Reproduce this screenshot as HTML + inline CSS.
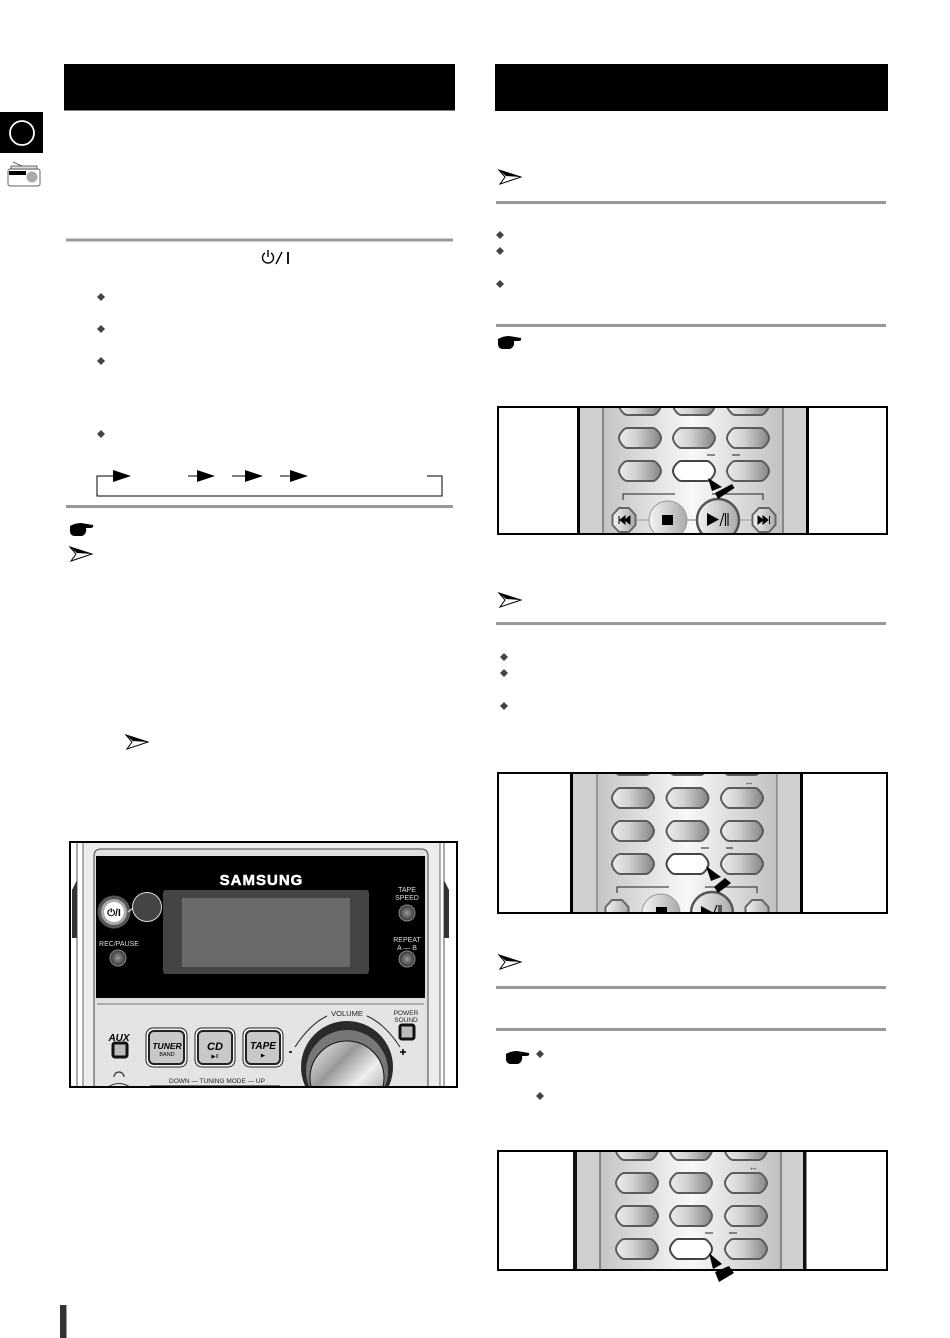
<!DOCTYPE html>
<html><head><meta charset="utf-8"><style>
html,body{margin:0;padding:0;background:#fff}
svg{display:block}
text{font-family:"Liberation Sans",sans-serif}
</style></head><body>
<svg xmlns="http://www.w3.org/2000/svg" width="950" height="1338" viewBox="0 0 950 1338">
<defs>
<linearGradient id="btn" x1="0" x2="1" y1="0" y2="0"><stop offset="0" stop-color="#ececec"/><stop offset=".4" stop-color="#d2d2d2"/><stop offset="1" stop-color="#858585"/></linearGradient>
<linearGradient id="body" x1="0" x2="1" y1="0" y2="0"><stop offset="0" stop-color="#c4c4c4"/><stop offset=".5" stop-color="#f8f8f8"/><stop offset="1" stop-color="#c0c0c0"/></linearGradient>
<linearGradient id="circ" x1="0" x2="1" y1="0" y2="0"><stop offset="0" stop-color="#f4f4f4"/><stop offset="1" stop-color="#aaa"/></linearGradient>
<linearGradient id="knob" x1="0" x2="1" y1="0" y2="1"><stop offset="0" stop-color="#f0f0f0"/><stop offset=".35" stop-color="#999"/><stop offset=".6" stop-color="#eee"/><stop offset="1" stop-color="#888"/></linearGradient>
<radialGradient id="led"><stop offset="0" stop-color="#999"/><stop offset="1" stop-color="#333"/></radialGradient>
<path id="b" d="M-13,-10 H13 C16,-10 21,-4 21,0 C21,4 16,10 13,10 H-13 C-16,10 -21,4 -21,0 C-21,-4 -16,-10 -13,-10 Z" fill="url(#btn)" stroke="#5c5c5c" stroke-width="2"/>
<path id="bw" d="M-13,-10 H13 C16,-10 21,-4 21,0 C21,4 16,10 13,10 H-13 C-16,10 -21,4 -21,0 C-21,-4 -16,-10 -13,-10 Z" fill="#fff" stroke="#444" stroke-width="2"/>
<path id="hex" d="M-5,-12 H5 L11.500,-5 V5 L5,12 H-5 L-11.500,5 V-5 Z" fill="url(#circ)" stroke="#666" stroke-width="2" stroke-linejoin="round"/>
<path id="dia" d="M0,-4 L4,0 L0,4 L-4,0 Z" fill="#444"/>
<g id="ar"><path d="M-11,-7 L11,0 L-10,7 L-5,0 Z" fill="#fff" stroke="#000" stroke-width="1"/><path d="M-11,-7 L11,0 L-4,-1 Z" fill="#000"/></g>
<path id="hand" d="M-11,-4 Q-6,-7 0,-7 L12,-5 Q13,-2 9,-2 L5,-2 Q6,4 1,6 L-7,6 Q-11,5 -11,1 Z" fill="#000"/>
<path id="ah" d="M0,-6 L18,0 L0,6 Z" fill="#000"/>
<clipPath id="c1"><rect x="498" y="407" width="389" height="127"/></clipPath>
<clipPath id="c2"><rect x="498" y="773" width="389" height="140"/></clipPath>
<clipPath id="c3"><rect x="498" y="1151" width="389" height="119"/></clipPath>
<clipPath id="c4"><rect x="70" y="842" width="387" height="245"/></clipPath>
</defs>

<!-- headers -->
<rect x="64" y="64" width="391" height="46.5" fill="#000"/>
<rect x="495" y="64" width="393" height="47" fill="#000"/>

<!-- side tab -->
<rect x="0" y="112" width="43" height="41" fill="#000"/>
<circle cx="22" cy="133" r="12" fill="none" stroke="#fff" stroke-width="1.800"/>
<g>
<path d="M13,162 L24,167" stroke="#444" stroke-width=".8"/>
<rect x="8" y="169" width="32" height="17" rx="2" fill="#fff" stroke="#666"/>
<rect x="11" y="166" width="26" height="3" fill="#ddd" stroke="#333" stroke-width=".7"/>
<rect x="9" y="171" width="17" height="4" fill="#000"/>
<circle cx="32" cy="177" r="5.500" fill="#aaa"/>
</g>

<!-- left rules -->
<rect x="66" y="238.500" width="387" height="3" fill="#999"/>
<rect x="66" y="505" width="387" height="3" fill="#999"/>
<!-- power symbol -->
<g fill="none" stroke="#000" stroke-width="1.400">
<path d="M265,253 A5.500,5.500 0 1 0 271,253"/><path d="M268,250 V257"/><path d="M276,264 L282,252"/><path d="M288,252 V264" stroke-width="1.800"/>
</g>
<use href="#dia" x="101" y="297"/><use href="#dia" x="101" y="329"/><use href="#dia" x="101" y="361"/><use href="#dia" x="101" y="434"/>

<!-- cycle arrows -->
<path d="M113,476 H97 V496 H442 V476 H427" fill="none" stroke="#000" stroke-width="1"/>
<use href="#ah" x="113" y="476"/>
<path d="M188,476 H200" stroke="#000"/><use href="#ah" x="197" y="476"/>
<path d="M232,476 H248" stroke="#000"/><use href="#ah" x="245" y="476"/>
<path d="M280,476 H293" stroke="#000"/><use href="#ah" x="290" y="476"/>

<use href="#hand" x="81" y="530"/>
<use href="#ar" x="81" y="554"/>
<use href="#ar" x="137" y="742"/>

<!-- device panel -->
<g clip-path="url(#c4)">
<rect x="70" y="842" width="387" height="245" fill="#fff"/>
<path d="M83,842 H440 V1087 H83 Z" fill="#ececec" stroke="#666"/>
<path d="M77,842 V1087 M444,842 V1087" stroke="#555" stroke-width="1"/>
<path d="M72,890 L77,880 V938 H72 Z M449,890 L444,880 V938 H449 Z" fill="#333"/>
<path d="M94,1087 V856 Q94,849 101,849 H421 Q428,849 428,856 V1087" fill="#e0e0e0" stroke="#444"/>
<rect x="96" y="856" width="329" height="142" fill="#000"/>
<text x="261.500" y="885" font-size="15" font-weight="700" fill="#fff" text-anchor="middle" letter-spacing="1" stroke="#fff" stroke-width=".5">SAMSUNG</text>
<rect x="163" y="890" width="206" height="84" rx="3" fill="#444"/>
<rect x="182" y="898" width="168" height="69" fill="#6a6a6a"/>
<circle cx="114" cy="912" r="16.500" fill="#555"/>
<circle cx="114" cy="912" r="13" fill="#aaa"/>
<circle cx="114" cy="912" r="10" fill="#fff"/>
<text x="114" y="916" font-size="10" text-anchor="middle" fill="#000" font-weight="700">⏻/I</text>
<path d="M128,912 L137,905" stroke="#ddd" stroke-width="1.200"/>
<circle cx="147" cy="907" r="14.500" fill="#444" stroke="#ddd" stroke-width="1"/>
<g fill="#ddd" font-size="7" text-anchor="middle">
<text x="407" y="892">TAPE</text><text x="407" y="900">SPEED</text>
<text x="407" y="942">REPEAT</text><text x="407" y="950">A — B</text>
<text x="119" y="946">REC/PAUSE</text>
</g>
<circle cx="407" cy="913" r="8" fill="url(#led)" stroke="#888"/>
<circle cx="407" cy="959" r="8" fill="url(#led)" stroke="#888"/>
<circle cx="118" cy="958" r="8" fill="url(#led)" stroke="#888"/>
<path d="M97,1004 H424" stroke="#777"/>
<rect x="96" y="1005" width="329" height="85" fill="#e4e4e4"/>
<text x="119" y="1041" font-size="10" font-weight="700" font-style="italic" text-anchor="middle" fill="#000">AUX</text>
<rect x="113" y="1043" width="14" height="14" rx="2" fill="#bbb" stroke="#111" stroke-width="3"/>
<path d="M114,1077 A5,5 0 0 1 124,1077" fill="none" stroke="#333" stroke-width="1.200"/>
<path d="M108,1087 Q119,1080 130,1087" fill="none" stroke="#333"/>
<g fill="#c8c8c8" stroke="#222">
<rect x="146" y="1028" width="41" height="39" rx="7" fill="#f4f4f4"/>
<rect x="149" y="1031" width="35" height="33" rx="5" stroke-width="2"/>
<rect x="195" y="1028" width="40" height="39" rx="7" fill="#f4f4f4"/>
<rect x="198" y="1031" width="34" height="33" rx="5" stroke-width="2"/>
<rect x="243" y="1028" width="40" height="39" rx="7" fill="#f4f4f4"/>
<rect x="246" y="1031" width="34" height="33" rx="5" stroke-width="2"/>
</g>
<g text-anchor="middle" fill="#000" font-style="italic" font-weight="700">
<text x="167" y="1049" font-size="8.500">TUNER</text>
<text x="215" y="1050" font-size="11">CD</text>
<text x="263" y="1049" font-size="10">TAPE</text>
</g>
<g text-anchor="middle" fill="#000" font-size="5.500">
<text x="167" y="1056">BAND</text><text x="215" y="1058">▶II</text><text x="263" y="1057">▶</text>
</g>
<text x="217" y="1083" font-size="6.500" text-anchor="middle" fill="#222">DOWN — TUNING MODE — UP</text>
<path d="M150,1086 H280" stroke="#444" stroke-width="1.500"/>
<text x="347" y="1016" font-size="7.500" text-anchor="middle" fill="#222">VOLUME</text>
<text x="406" y="1015" font-size="6.500" text-anchor="middle" fill="#222">POWER</text>
<text x="406" y="1022" font-size="6.500" text-anchor="middle" fill="#222">SOUND</text>
<rect x="400" y="1025" width="14" height="14" rx="2" fill="#bbb" stroke="#111" stroke-width="3"/>
<path d="M295,1047 Q310,1024 327,1016 M367,1016 Q385,1024 400,1047" fill="none" stroke="#222"/>
<path d="M289,1052 H292 M400,1052 H406 M403,1049 V1055" stroke="#000" stroke-width="1.500"/>
<circle cx="347" cy="1067" r="46" fill="#2a2a2a"/>
<circle cx="347" cy="1071" r="41" fill="#777"/>
<circle cx="347" cy="1078" r="37" fill="url(#knob)" stroke="#111"/>
</g>
<rect x="70" y="842" width="387" height="245" fill="none" stroke="#000" stroke-width="2"/>

<!-- right column rules -->
<rect x="496" y="201" width="390" height="3" fill="#999"/>
<rect x="496" y="324" width="390" height="3" fill="#999"/>
<rect x="496" y="622" width="390" height="3" fill="#999"/>
<rect x="496" y="986" width="390" height="3" fill="#999"/>
<rect x="496" y="1028" width="390" height="3" fill="#999"/>

<use href="#ar" x="510" y="177"/>
<use href="#ar" x="510" y="600"/>
<use href="#ar" x="510" y="962"/>
<use href="#hand" x="509" y="343"/>
<use href="#hand" x="517" y="1058"/>
<use href="#dia" x="500" y="235"/><use href="#dia" x="500" y="251"/><use href="#dia" x="500" y="284"/>
<use href="#dia" x="504" y="657"/><use href="#dia" x="504" y="673"/><use href="#dia" x="504" y="706"/>
<use href="#dia" x="540" y="1054"/><use href="#dia" x="540" y="1096"/>

<!-- remote 1 -->
<g clip-path="url(#c1)">
<rect x="577" y="407" width="232" height="127" fill="#cfcfcf"/>
<rect x="577" y="407" width="3" height="127" fill="#000"/><rect x="806" y="407" width="3" height="127" fill="#000"/>
<rect x="603" y="407" width="180" height="127" fill="url(#body)" stroke="#444"/>
<g><use href="#b" x="640" y="405"/><use href="#b" x="694" y="405"/><use href="#b" x="748" y="405"/>
<use href="#b" x="640" y="438"/><use href="#b" x="694" y="438"/><use href="#b" x="748" y="438"/>
<use href="#b" x="640" y="471"/><use href="#bw" x="694" y="471"/><use href="#b" x="748" y="471"/></g>
<path d="M707,455 H715 M732,455 H740" stroke="#222"/>
<path d="M675,494 H623 V500 M712,494 H763 V500" fill="none" stroke="#222"/>
<path d="M624,520 H764" stroke="#bbb" stroke-width="2"/>
<use href="#hex" x="624" y="520"/><use href="#hex" x="764" y="520"/>
<circle cx="668" cy="520" r="19" fill="url(#circ)" stroke="#999"/>
<rect x="662" y="515" width="11" height="10" fill="#000"/>
<circle cx="718" cy="520" r="21" fill="url(#circ)" stroke="#555" stroke-width="2.500"/>
<path d="M707,513 L719,519.500 L707,526 Z" fill="#000"/><path d="M720,526 L724,513 M725.500,513 V526 M728,513 V526" stroke="#000" stroke-width="1.100"/>
<path d="M619,516 V524 M625,516 L620,520 L625,524 Z M630,516 L625,520 L630,524 Z" fill="#000" stroke="#000"/>
<path d="M758,516 L763,520 L758,524 Z M763,516 L768,520 L763,524 Z M769.500,516 V524" fill="#000" stroke="#000"/>
</g>
<path d="M708,478 L722,487 L712,491 Z" fill="#000"/>
<path d="M715,493 L732,484 L734.500,488 L718,499 Z" fill="#000"/>
<rect x="498" y="407" width="389" height="127" fill="none" stroke="#000" stroke-width="2"/>

<!-- remote 2 -->
<g clip-path="url(#c2)">
<rect x="570" y="773" width="233" height="140" fill="#cfcfcf"/>
<rect x="570" y="773" width="3" height="140" fill="#000"/><rect x="800" y="773" width="3" height="140" fill="#000"/>
<rect x="597" y="773" width="180" height="140" fill="url(#body)" stroke="#666"/>
<use href="#b" x="633" y="765"/><use href="#b" x="687.500" y="765"/><use href="#b" x="742" y="765"/>
<use href="#b" x="633" y="798"/><use href="#b" x="687.500" y="798"/><use href="#b" x="742" y="798"/>
<use href="#b" x="633" y="831"/><use href="#b" x="687.500" y="831"/><use href="#b" x="742" y="831"/>
<use href="#b" x="633" y="864"/><use href="#bw" x="687.500" y="864"/><use href="#b" x="742" y="864"/>
<path d="M701,848 H709 M726,848 H733" stroke="#222"/>
<text x="749" y="785" font-size="9" text-anchor="middle" fill="#333">↔</text>
<path d="M669,887 H617 V893 M705,887 H757 V893" fill="none" stroke="#222"/>
<use href="#hex" x="617" y="912"/><use href="#hex" x="757" y="912"/>
<circle cx="661" cy="913" r="19" fill="url(#circ)" stroke="#999"/>
<rect x="656" y="907" width="11" height="10" fill="#000"/>
<circle cx="712" cy="913" r="21" fill="url(#circ)" stroke="#555" stroke-width="2.500"/>
<path d="M701,906 L712,912 L701,918 Z" fill="#000"/><path d="M714,913 L717,905 M719,905 V913 M721,905 V913" stroke="#000" stroke-width="1.100"/>
</g>
<path d="M706,866 L721,877 L711,881 Z" fill="#000"/>
<path d="M714,887 L725,878 L731,883 L718,893 Z" fill="#000"/>
<rect x="498" y="773" width="389" height="140" fill="none" stroke="#000" stroke-width="2"/>

<!-- remote 3 -->
<g clip-path="url(#c3)">
<rect x="573" y="1151" width="233" height="119" fill="#cfcfcf"/>
<rect x="573" y="1151" width="4" height="119" fill="#111"/><rect x="803" y="1151" width="3.500" height="119" fill="#111"/>
<rect x="600" y="1151" width="181" height="119" fill="url(#body)" stroke="#444"/>
<use href="#b" x="637" y="1150"/><use href="#b" x="691" y="1150"/><use href="#b" x="746" y="1150"/>
<use href="#b" x="637" y="1183"/><use href="#b" x="691" y="1183"/><use href="#b" x="746" y="1183"/>
<use href="#b" x="637" y="1216"/><use href="#b" x="691" y="1216"/><use href="#b" x="746" y="1216"/>
<use href="#b" x="637" y="1249"/><use href="#bw" x="691" y="1249"/><use href="#b" x="746" y="1249"/>
<path d="M705,1233 H713 M729,1233 H737" stroke="#222"/>
<text x="753" y="1170" font-size="9" text-anchor="middle" fill="#333">↔</text>
</g>
<rect x="498" y="1151" width="389" height="119" fill="none" stroke="#000" stroke-width="2"/>
<path d="M709,1253 L722,1264 L713,1269 Z" fill="#000"/>
<path d="M715,1272 L729,1266 L734,1273 L719,1282 Z" fill="#000"/>

<!-- footer bar -->
<rect x="60" y="1305" width="6.500" height="33" fill="#333"/>
</svg>
</body></html>
